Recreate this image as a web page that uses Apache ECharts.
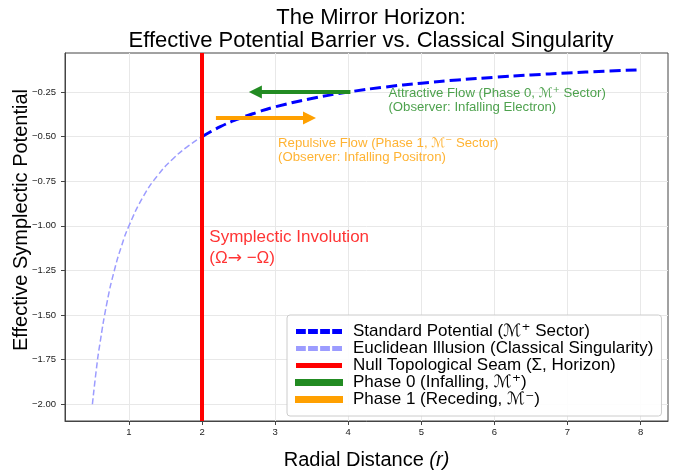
<!DOCTYPE html>
<html>
<head>
<meta charset="utf-8">
<script src="https://cdn.jsdelivr.net/npm/echarts@6/dist/echarts.min.js"></script>
<style>
  html, body { margin: 0; padding: 0; background: #fff; }
  #main { width: 675px; height: 471px; }
</style>
</head>
<body>
<div id="main"></div>
<script>
// radial distance and potential
var rStandard = [2, 2.25, 2.5, 2.75, 3, 3.5, 4, 4.5, 5, 5.5, 6, 6.5, 7, 7.5, 8];
var vStandard = [-0.5, -0.444, -0.4, -0.364, -0.333, -0.286, -0.25, -0.222, -0.2, -0.182, -0.167, -0.154, -0.143, -0.133, -0.125];
var rIllusion = [0.5, 0.55, 0.6, 0.7, 0.8, 0.9, 1, 1.2, 1.4, 1.6, 1.8, 2];
var vIllusion = [-2, -1.818, -1.667, -1.429, -1.25, -1.111, -1, -0.833, -0.714, -0.625, -0.556, -0.5];
var horizonR = 2;
var phase0Arrow = [[4.03, -0.25], [2.73, -0.25]];   // tail, head
var phase1Arrow = [[2.19, -0.396], [3.47, -0.396]];
var xTicks = [1, 2, 3, 4, 5, 6, 7, 8];
var yTicks = [-2, -1.75, -1.5, -1.25, -1, -0.75, -0.5, -0.25];
var seriesNames = [
    'Standard Potential (ℳ⁺ Sector)',
    'Euclidean Illusion (Classical Singularity)',
    'Null Topological Seam (Σ, Horizon)',
    'Phase 0 (Infalling, ℳ⁺)',
    'Phase 1 (Receding, ℳ⁻)'
];

var FONT = '"Liberation Sans", Arial, "DejaVu Sans", sans-serif';
var BLUE = '#0000ff', LIGHT = '#9c9cff', RED = '#ff0000', GREEN = '#228b22', ORANGE = '#ffa000';

function zip(xs, ys) {
    var out = [];
    for (var i = 0; i < xs.length; i++) out.push([xs[i], ys[i]]);
    return out;
}

var dashIcon = 'path://M0,0h10v5h-10z M12.3,0h10v5h-10z M24.6,0h10v5h-10z M36.9,0h10v5h-10z';
var solidIcon = 'path://M0,0h47v5h-47z';

var chart = echarts.init(document.getElementById('main'));

var option = {
    animation: false,
    textStyle: { fontFamily: FONT },
    title: {
        text: 'The Mirror Horizon:\nEffective Potential Barrier vs. Classical Singularity',
        left: 366, top: 1, textAlign: 'center',
        textStyle: { fontFamily: FONT, fontSize: 22, fontWeight: 'normal', color: '#000', lineHeight: 23 }
    },
    grid: {
        left: 65, right: 7, top: 53, bottom: 50, outerBoundsMode: 'none',
        show: true, borderColor: '#444', borderWidth: 1
    },
    legend: {
        orient: 'vertical',
        left: 287, top: 315,
        padding: [8, 8, 8, 8],
        itemGap: 0,
        itemWidth: 46, itemHeight: 5,
        backgroundColor: 'rgba(255,255,255,0.9)',
        borderColor: '#cccccc', borderWidth: 1, borderRadius: 3,
        textStyle: { fontFamily: FONT, fontSize: 17, color: '#000', lineHeight: 17, padding: [0, 0, 0, 6] },
        data: [
            { name: seriesNames[0], icon: dashIcon },
            { name: seriesNames[1], icon: dashIcon },
            { name: seriesNames[2], icon: solidIcon },
            { name: seriesNames[3], icon: solidIcon },
            { name: seriesNames[4], icon: solidIcon }
        ]
    },
    xAxis: {
        type: 'value', min: 0.125, max: 8.375,
        name: '{n|Radial Distance }{i|(r)}',
        nameLocation: 'middle', nameGap: 29, nameMoveOverlap: false,
        nameTextStyle: {
            rich: {
                n: { fontFamily: FONT, fontSize: 20, color: '#000' },
                i: { fontFamily: FONT, fontSize: 20, color: '#000', fontStyle: 'italic' }
            }
        },
        axisLine: { show: true, lineStyle: { color: '#444' } },
        axisTick: { show: true, length: 4, customValues: xTicks, lineStyle: { color: '#444' } },
        axisLabel: { customValues: xTicks, fontSize: 9.5, color: '#222', margin: 6 },
        splitLine: { show: true, lineStyle: { color: '#e8e8e8' } }
    },
    yAxis: {
        type: 'value', min: -2.094, max: -0.031,
        name: 'Effective Symplectic Potential',
        nameLocation: 'middle', nameGap: 34, nameMoveOverlap: false,
        nameTextStyle: { fontFamily: FONT, fontSize: 20, color: '#000', padding: [0, 0, 0, 34] },
        axisLine: { show: true, lineStyle: { color: '#444' } },
        axisTick: { show: true, length: 4, customValues: yTicks, lineStyle: { color: '#444' } },
        axisLabel: {
            customValues: yTicks, fontSize: 9.5, color: '#222', margin: 9,
            formatter: function (v) { return v.toFixed(2).replace('-', '\u2212'); }
        },
        splitLine: { show: true, lineStyle: { color: '#e8e8e8' } }
    },
    series: [
        {
            name: seriesNames[1], type: 'line', data: zip(rIllusion, vIllusion),
            smooth: true, showSymbol: false, symbol: 'none', z: 3,
            itemStyle: { color: LIGHT },
            lineStyle: { color: LIGHT, width: 1.5, type: [6, 3] }
        },
        {
            name: seriesNames[0], type: 'line', data: zip(rStandard, vStandard),
            smooth: true, showSymbol: false, symbol: 'none', z: 4,
            itemStyle: { color: BLUE },
            lineStyle: { color: BLUE, width: 3, type: [11, 5] }
        },
        {
            name: seriesNames[2], type: 'line', data: [], z: 5,
            itemStyle: { color: RED },
            lineStyle: { color: RED, width: 4 },
            markLine: {
                silent: true, symbol: ['none', 'none'],
                label: { show: false },
                lineStyle: { color: RED, width: 4, type: 'solid' },
                data: [{ xAxis: horizonR }]
            }
        },
        {
            name: seriesNames[3], type: 'lines', coordinateSystem: 'cartesian2d', z: 6,
            symbol: ['none', 'triangle'], symbolSize: [16, 13],
            itemStyle: { color: GREEN },
            lineStyle: { color: GREEN, width: 4, opacity: 1 },
            data: [{ coords: phase0Arrow }]
        },
        {
            name: seriesNames[4], type: 'lines', coordinateSystem: 'cartesian2d', z: 6,
            symbol: ['none', 'triangle'], symbolSize: [16, 13],
            itemStyle: { color: ORANGE },
            lineStyle: { color: ORANGE, width: 4, opacity: 1 },
            data: [{ coords: phase1Arrow }]
        },
        {
            name: 'notes', type: 'scatter', symbolSize: 0, silent: true, z: 7,
            label: {
                show: true, position: 'right', distance: 0,
                align: 'left', verticalAlign: 'middle',
                fontFamily: FONT,
                formatter: function (p) { return p.data.text; },
                rich: {
                    a: { fontFamily: '"DejaVu Sans", sans-serif', fontSize: 17, color: RED }
                }
            },
            data: [
                { value: [4.55, -0.295], text: 'Attractive Flow (Phase 0, ℳ⁺ Sector)\n(Observer: Infalling Electron)',
                  label: { color: GREEN, fontSize: 13.2, lineHeight: 14 } },
                { value: [3.04, -0.575], text: 'Repulsive Flow (Phase 1, ℳ⁻ Sector)\n(Observer: Infalling Positron)',
                  label: { color: ORANGE, fontSize: 13.2, lineHeight: 14 } },
                { value: [2.1, -1.125], text: 'Symplectic Involution\n(Ω{a|→} −Ω)',
                  label: { color: RED, fontSize: 17, lineHeight: 21 } }
            ]
        }
    ]
};

chart.setOption(option);
</script>
</body>
</html>
